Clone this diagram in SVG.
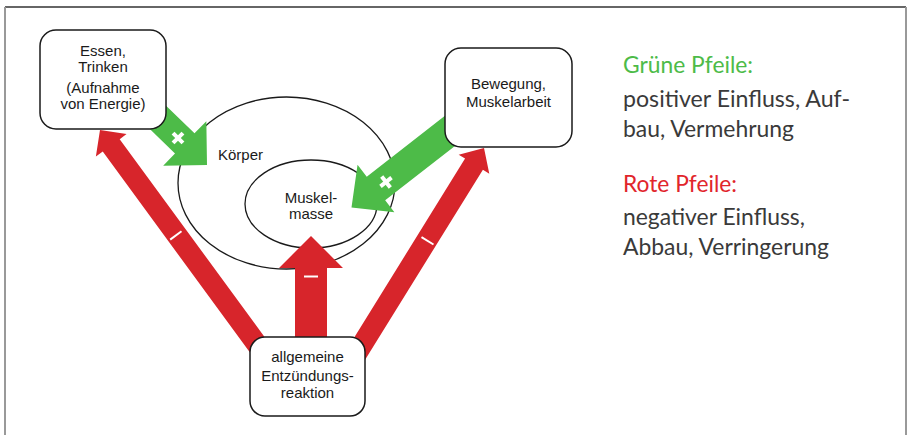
<svg xmlns="http://www.w3.org/2000/svg" width="915" height="435" viewBox="0 0 915 435">
  <style>
    .frame-top { stroke: #333; stroke-width: 1.5; fill: none; }
    .frame-side { stroke: #999; stroke-width: 2; fill: none; }
    .ell { fill: none; stroke: #1a1a1a; stroke-width: 1.3; }
    .box { fill: #fff; stroke: #1a1a1a; stroke-width: 1.5; }
    .lbl { font-family: "Liberation Sans", Arial, sans-serif; font-size: 15px; fill: #1a1a1a; text-anchor: middle; }
    .lbl-start { font-family: "Liberation Sans", Arial, sans-serif; font-size: 15px; fill: #1a1a1a; }
    .green { fill: #4dbb48; }
    .red { fill: #d7252b; }
    .sign { stroke: #fff; fill: none; }
    .legend { font-family: Lato, "Open Sans", "Liberation Sans", sans-serif; font-weight: 400; font-size: 23px; fill: #3a3a3a; }
    .legend-g { fill: #4dbb48; }
    .legend-r { fill: #e1252b; }
  </style>

  <!-- frame -->
  <line class="frame-top" x1="5" y1="7" x2="906" y2="7"/>
  <line class="frame-side" x1="5" y1="7" x2="5" y2="435"/>
  <line class="frame-side" x1="906" y1="7" x2="906" y2="435"/>

  <!-- body ellipses -->
  <g id="koerper">
    <ellipse class="ell" cx="286.5" cy="183" rx="108.5" ry="86"/>
    <text class="lbl-start" x="218" y="160">Körper</text>
  </g>
  <g id="muskelmasse">
    <ellipse class="ell" cx="311" cy="204" rx="66" ry="44"/>
    <text class="lbl" x="311" y="203">Muskel-</text>
    <text class="lbl" x="311" y="219">masse</text>
  </g>

  <!-- connectors -->
  <g id="connectors">
    <!-- green: Essen -> Körper -->
    <polygon class="green" points="130.25,110.05 175.0,153.46 163.16,165.66 207,165 206.34,121.16 194.5,133.36 149.75,89.95"/>
    <g class="sign" stroke-width="4" transform="translate(178,138) rotate(45)">
      <line x1="-7" y1="0" x2="7" y2="0"/>
      <line x1="0" y1="-7" x2="0" y2="7"/>
    </g>
    <!-- green: Bewegung -> Muskelmasse -->
    <polygon class="green" points="460.64,103.56 366.75,176.64 357.54,164.8 351.5,207.5 394.38,212.14 385.17,200.31 479.06,127.24"/>
    <g class="sign" stroke-width="4" transform="translate(386,182) rotate(52)">
      <line x1="-7" y1="0" x2="7" y2="0"/>
      <line x1="0" y1="-7" x2="0" y2="7"/>
    </g>
    <!-- red: Entzündung -> Essen -->
    <polygon class="red" points="273.87,349.70 119.69,139.13 126.55,134.11 100,130 95.89,156.55 102.75,151.53 256.93,362.10"/>
    <line class="sign" stroke-width="2" x1="170.2" y1="239.6" x2="181.5" y2="231.3"/>
    <!-- red: Entzündung -> Muskelmasse -->
    <polygon class="red" points="295,345 295,268 279,268 311,236 343,268 327,268 327,345"/>
    <line class="sign" stroke-width="2" x1="304" y1="276.5" x2="318" y2="276.5"/>
    <!-- red: Entzündung -> Bewegung -->
    <polygon class="red" points="361.23,366.03 482.92,169.68 489.29,173.63 484,148 458.69,154.67 465.06,158.62 343.37,354.97"/>
    <line class="sign" stroke-width="2" x1="421.5" y1="237.1" x2="433.5" y2="244.5"/>
  </g>

  <!-- nodes -->
  <g id="essen">
    <rect class="box" x="40" y="30" width="126" height="99" rx="16" ry="16"/>
    <text class="lbl" x="103" y="56">Essen,</text>
    <text class="lbl" x="103" y="72">Trinken</text>
    <text class="lbl" x="103" y="93">(Aufnahme</text>
    <text class="lbl" x="103" y="109">von Energie)</text>
  </g>
  <g id="bewegung">
    <rect class="box" x="445" y="48" width="127" height="99" rx="16" ry="16"/>
    <text class="lbl" x="508.5" y="89">Bewegung,</text>
    <text class="lbl" x="508.5" y="107">Muskelarbeit</text>
  </g>
  <g id="entzuendung">
    <rect class="box" x="250" y="337" width="115" height="79" rx="15" ry="15"/>
    <text class="lbl" x="307.5" y="362">allgemeine</text>
    <text class="lbl" x="307.5" y="380.5">Entzündungs-</text>
    <text class="lbl" x="307.5" y="398">reaktion</text>
  </g>

  <!-- legend -->
  <g id="legend">
    <text class="legend legend-g" x="623" y="73" textLength="130" lengthAdjust="spacingAndGlyphs">Grüne Pfeile:</text>
    <text class="legend" x="623" y="107" textLength="227" lengthAdjust="spacingAndGlyphs">positiver Einfluss, Auf-</text>
    <text class="legend" x="623" y="137" textLength="171" lengthAdjust="spacingAndGlyphs">bau, Vermehrung</text>
    <text class="legend legend-r" x="623" y="192" textLength="114" lengthAdjust="spacingAndGlyphs">Rote Pfeile:</text>
    <text class="legend" x="623" y="225" textLength="182" lengthAdjust="spacingAndGlyphs">negativer Einfluss,</text>
    <text class="legend" x="623" y="255" textLength="206" lengthAdjust="spacingAndGlyphs">Abbau, Verringerung</text>
  </g>
</svg>
